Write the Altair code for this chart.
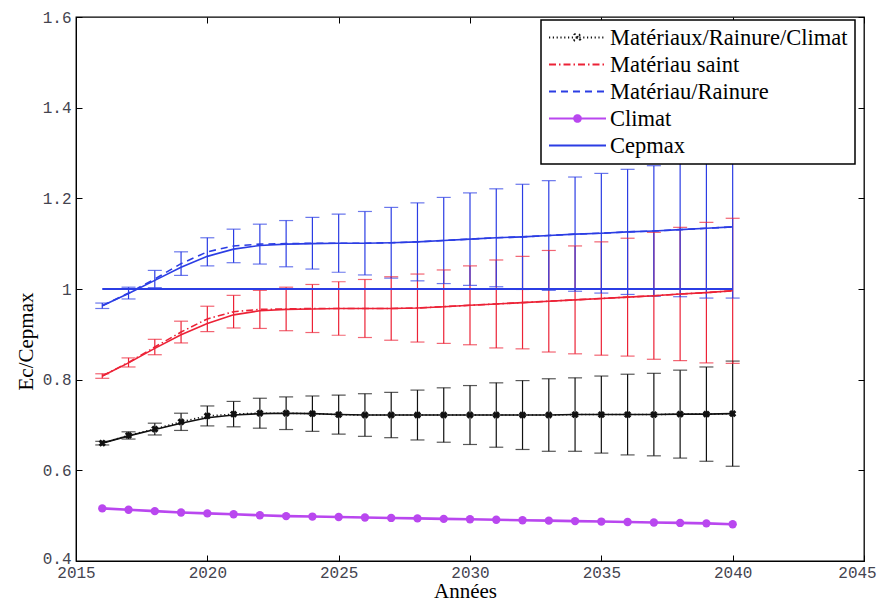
import altair as alt
import pandas as pd

years = list(range(2016, 2041))
series_names = ["Matériaux/Rainure/Climat", "Matériau saint", "Matériau/Rainure", "Climat", "Cepmax"]
series_colors = ["#111111", "#ec2236", "#2b3de4", "#b947ef", "#2b3de4"]

# Matériaux/Rainure/Climat (black)
mrc_mean = [0.660, 0.677, 0.691, 0.707, 0.720, 0.724, 0.726, 0.726, 0.725, 0.723, 0.722, 0.722, 0.722,
            0.722, 0.722, 0.722, 0.722, 0.722, 0.723, 0.723, 0.723, 0.723, 0.724, 0.724, 0.725]
mrc_fit = [0.660, 0.676, 0.690, 0.704, 0.716, 0.722, 0.725, 0.726, 0.725, 0.723, 0.722, 0.722, 0.722,
           0.722, 0.722, 0.722, 0.722, 0.722, 0.723, 0.723, 0.723, 0.723, 0.724, 0.724, 0.725]
mrc_err = [0.004, 0.008, 0.013, 0.019, 0.022, 0.028, 0.033, 0.036, 0.039, 0.043, 0.047, 0.050, 0.055,
           0.060, 0.065, 0.071, 0.076, 0.080, 0.081, 0.085, 0.089, 0.091, 0.097, 0.104, 0.116]

# Matériau saint (red)
ms_mean = [0.808, 0.838, 0.872, 0.905, 0.934, 0.950, 0.955, 0.956, 0.957, 0.957, 0.957, 0.957, 0.958,
           0.961, 0.964, 0.967, 0.970, 0.973, 0.976, 0.979, 0.982, 0.985, 0.989, 0.992, 0.996]
ms_fit = [0.808, 0.837, 0.869, 0.899, 0.924, 0.943, 0.952, 0.955, 0.956, 0.957, 0.957, 0.957, 0.958,
          0.961, 0.964, 0.967, 0.970, 0.973, 0.976, 0.979, 0.982, 0.985, 0.989, 0.992, 0.996]
ms_err = [0.005, 0.010, 0.017, 0.024, 0.028, 0.036, 0.042, 0.048, 0.053, 0.059, 0.064, 0.070, 0.075,
          0.081, 0.087, 0.097, 0.102, 0.112, 0.119, 0.125, 0.130, 0.140, 0.147, 0.155, 0.160]

# Matériau/Rainure (blue)
mr_mean = [0.963, 0.991, 1.022, 1.056, 1.082, 1.095, 1.099, 1.100, 1.101, 1.101, 1.101, 1.102, 1.104,
           1.107, 1.110, 1.113, 1.115, 1.118, 1.121, 1.123, 1.126, 1.128, 1.131, 1.134, 1.137]
mr_fit = [0.963, 0.990, 1.019, 1.048, 1.072, 1.088, 1.096, 1.099, 1.100, 1.101, 1.101, 1.102, 1.104,
          1.107, 1.110, 1.113, 1.115, 1.118, 1.121, 1.123, 1.126, 1.128, 1.131, 1.134, 1.137]
mr_err = [0.006, 0.013, 0.019, 0.026, 0.031, 0.037, 0.044, 0.051, 0.057, 0.064, 0.070, 0.078, 0.086,
          0.095, 0.102, 0.108, 0.116, 0.121, 0.126, 0.132, 0.138, 0.144, 0.148, 0.154, 0.157]

# Climat (magenta)
climat = [0.516, 0.513, 0.510, 0.507, 0.505, 0.503, 0.501, 0.499, 0.498, 0.497, 0.496, 0.495, 0.494,
          0.493, 0.492, 0.491, 0.490, 0.489, 0.488, 0.487, 0.486, 0.485, 0.484, 0.483, 0.481]

# Cepmax (blue, constant)
cepmax = [1.0, 1.0, 1.0, 1.0, 1.0, 1.0, 1.0, 1.0, 1.0, 1.0, 1.0, 1.0, 1.0,
          1.0, 1.0, 1.0, 1.0, 1.0, 1.0, 1.0, 1.0, 1.0, 1.0, 1.0, 1.0]

x_ticks = [2015, 2020, 2025, 2030, 2035, 2040, 2045]
y_ticks = [0.4, 0.6, 0.8, 1.0, 1.2, 1.4, 1.6]

# ---------- tables ----------
rows = []
for name, mean, fit, err in [(series_names[0], mrc_mean, mrc_fit, mrc_err),
                             (series_names[1], ms_mean, ms_fit, ms_err),
                             (series_names[2], mr_mean, mr_fit, mr_err)]:
    for yr, m, f, e in zip(years, mean, fit, err):
        rows.append({"series": name, "year": yr, "value": m, "fit": f, "lo": m - e, "hi": m + e})
main_df = pd.DataFrame(rows)
mrc_df = main_df[main_df["series"] == series_names[0]]
clim_df = pd.DataFrame({"series": series_names[3], "year": years, "value": climat})
cep_df = pd.DataFrame({"series": series_names[4], "year": years, "value": cepmax})
leg_df = pd.DataFrame({"serie": series_names, "year": [2016] * 5,
                       "value": [mrc_mean[0], ms_mean[0], mr_mean[0], climat[0], cepmax[0]]})

color_scale = alt.Scale(domain=series_names, range=series_colors)
dash_range = [[1.2, 2.6], [7, 3, 1.5, 3], [7, 5], [1, 0], [1, 0]]
dash_scale = alt.Scale(domain=series_names, range=dash_range)
line_path = "M-1,0L1,0"
shape_scale = alt.Scale(domain=series_names, range=[
    "M-1,0L1,0M-0.13,-0.13L0.13,0.13M-0.13,0.13L0.13,-0.13M-0.1,-0.13L0.13,0.1M-0.13,0.1L0.1,-0.13",
    line_path,
    line_path,
    "M-1,0L1,0M0.12,0A0.12,0.12,0,1,1,-0.12,0A0.12,0.12,0,1,1,0.12,0M0.06,0A0.06,0.06,0,1,1,-0.06,0A0.06,0.06,0,1,1,0.06,0",
    line_path,
])

tick_in = alt.ExprRef(expr="-6")
x_scale = alt.Scale(domain=[2015, 2045], nice=False, zero=False)
y_scale = alt.Scale(domain=[0.4, 1.6], nice=False, zero=False)

x_axis = alt.Axis(values=x_ticks, format="d", grid=False, title="Années", labelFlush=False,
                  labelFont="Liberation Mono", labelFontSize=16, labelColor="#44444f",
                  labelPadding=9, labelOffset=alt.ExprRef(expr="datum.value == 2045 ? -7 : 0"),
                  tickSize=tick_in, tickColor="black", domainColor="black",
                  titleFont="Liberation Serif", titleFontSize=21, titleFontWeight="normal",
                  titleColor="black", titleX=389, titleY=36, titleBaseline="alphabetic")
y_axis = alt.Axis(values=y_ticks, format=".1~f", grid=False, title="Ec/Cepmax", labelFlush=False,
                  labelFont="Liberation Mono", labelFontSize=16, labelColor="#44444f",
                  labelPadding=11, labelOffset=alt.ExprRef(expr="datum.value == 0.4 ? -3 : 0"),
                  tickSize=tick_in, tickColor="black", domainColor="black",
                  titleFont="Liberation Serif", titleFontSize=21, titleFontWeight="normal",
                  titleColor="black", titleX=-50, titleY=324, titleAngle=270,
                  titleBaseline="middle", titleAlign="center")

X = lambda f="year": alt.X(f"{f}:Q", scale=x_scale, axis=None)
Y = lambda f: alt.Y(f"{f}:Q", scale=y_scale, axis=None)
C = alt.Color("series:N", scale=color_scale, legend=None)

err_rules = alt.Chart(main_df).mark_rule(strokeWidth=1.2).encode(
    x=alt.X("year:Q", scale=x_scale, axis=x_axis),
    y=alt.Y("lo:Q", scale=y_scale, axis=y_axis),
    y2="hi:Q", color=C)
cap_lo = alt.Chart(main_df).mark_tick(orient="horizontal", size=14, thickness=1.2).encode(
    x=X(), y=Y("lo"), color=C)
cap_hi = alt.Chart(main_df).mark_tick(orient="horizontal", size=14, thickness=1.2).encode(
    x=X(), y=Y("hi"), color=C)
fit_lines = alt.Chart(main_df).mark_line(strokeWidth=1.6).encode(
    x=X(), y=Y("fit"), color=C, detail="series:N")
dash_lines = alt.Chart(main_df).mark_line(strokeWidth=1.6).encode(
    x=X(), y=Y("value"), color=C,
    strokeDash=alt.StrokeDash("series:N", scale=dash_scale, legend=None))
mrc_marks = alt.Chart(mrc_df).mark_point(shape="cross", angle=45, filled=True, size=55,
                                         color="#111111", opacity=1).encode(x=X(), y=Y("value"))
clim_line = alt.Chart(clim_df).mark_line(strokeWidth=2.6).encode(x=X(), y=Y("value"), color=C)
clim_pts = alt.Chart(clim_df).mark_point(shape="circle", filled=True, size=70, opacity=1).encode(
    x=X(), y=Y("value"), color=C)
cep_line = alt.Chart(cep_df).mark_line(strokeWidth=2.2).encode(x=X(), y=Y("value"), color=C)

legend = alt.Legend(title=None, orient="none", legendX=465, legendY=3, direction="vertical",
                    labelFont="Liberation Serif", labelFontSize=22.5, labelColor="black",
                    labelLimit=0, labelOffset=3, rowPadding=4, padding=7, clipHeight=21,
                    strokeColor="black", fillColor="white", symbolSize=3249,
                    symbolStrokeWidth=1.8, symbolOpacity=1)
leg_layer = alt.Chart(leg_df).mark_point(opacity=0, filled=False).encode(
    x=X(), y=Y("value"),
    color=alt.Color("serie:N", scale=alt.Scale(domain=series_names, range=series_colors), legend=legend),
    shape=alt.Shape("serie:N", scale=shape_scale, legend=legend),
    strokeDash=alt.StrokeDash("serie:N", scale=alt.Scale(domain=series_names, range=dash_range),
                              legend=legend))

frame_axes = alt.Chart(leg_df).mark_point(opacity=0).encode(
    x=alt.X("year:Q", scale=x_scale, axis=alt.Axis(orient="top", values=x_ticks, labels=False,
                                                   title=None, domain=False, grid=False,
                                                   tickSize=tick_in, tickColor="black")),
    y=alt.Y("value:Q", scale=y_scale, axis=alt.Axis(orient="right", values=y_ticks, labels=False,
                                                    title=None, domain=False, grid=False,
                                                    tickSize=tick_in, tickColor="black")))

chart = alt.layer(err_rules, cap_lo, cap_hi, fit_lines, dash_lines, mrc_marks, clim_line, clim_pts,
                  cep_line, leg_layer, frame_axes).resolve_axis(
    x="independent", y="independent"
).resolve_scale(
    color="independent", strokeDash="independent", shape="independent"
).properties(
    width=788, height=544,
    autosize=alt.AutoSizeParams(type="none"),
    padding={"left": 68, "top": 9, "right": 13, "bottom": 39},
).configure_view(stroke="black", strokeWidth=1.3).configure_legend(strokeWidth=1.5)

chart.save("out.html", embed_options={"renderer": "svg", "actions": False})
